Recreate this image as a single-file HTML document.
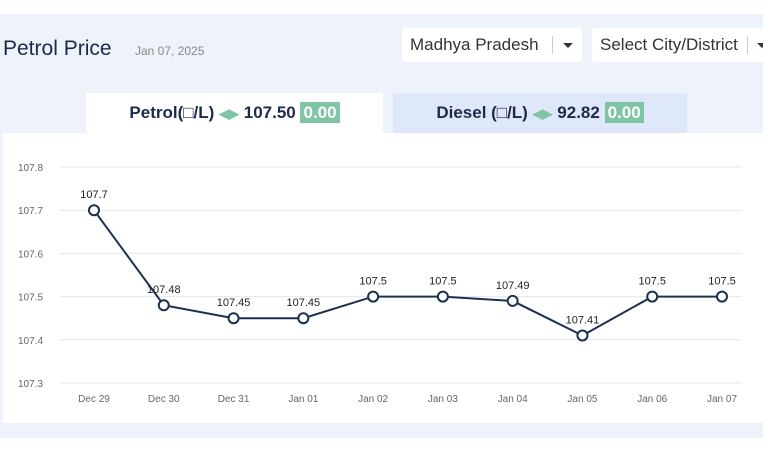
<!DOCTYPE html>
<html><head><meta charset="utf-8"><style>
body{margin:0;width:763px;height:458px;background:#fff;font-family:"Liberation Sans",sans-serif;overflow:hidden;position:relative}
.panel{position:absolute;left:0;top:14px;width:763px;height:424px;background:#eef2fb}
.title{position:absolute;left:3px;top:37px;font-size:21px;color:#1c2b4a}
.date{position:absolute;left:135px;top:44px;font-size:12px;color:#888}
.sel{position:absolute;top:28px;height:34px;background:#fff;border-radius:4px;font-size:17px;color:#333;line-height:34px;padding-left:8px;box-sizing:border-box}
.sel .bar{position:absolute;top:8px;width:1px;height:18px;background:#ccc}
.sel .car{position:absolute;top:15px;border-left:5px solid transparent;border-right:5px solid transparent;border-top:5px solid #333}
.tab{position:absolute;top:93px;height:40px;font-size:17px;font-weight:bold;color:#1c2b4a;line-height:40px;text-align:center}
.badge{background:#7fc4a4;color:#fff;padding:1px 3px;font-weight:bold}
.arr{color:#7fc4a4;font-size:13px}
.card{position:absolute;left:3px;top:133px;width:760px;height:290px;background:#fff}
</style></head><body>
<div class="panel"></div>
<div class="title">Petrol Price</div>
<div class="date">Jan 07, 2025</div>
<div class="sel" style="left:402px;width:180px">Madhya Pradesh<span class="bar" style="left:150px"></span><span class="car" style="left:161px"></span></div>
<div class="sel" style="left:592px;width:180px">Select City/District<span class="bar" style="left:155px"></span><span class="car" style="left:165px"></span></div>
<div class="tab" style="left:86px;width:297px;background:#fff">Petrol(□/L) <span class="arr">◀▶</span> 107.50 <span class="badge">0.00</span></div>
<div class="tab" style="left:393px;width:294px;background:#dfe8f8">Diesel (□/L) <span class="arr">◀▶</span> 92.82 <span class="badge">0.00</span></div>
<div class="card"></div>
<svg id="chart" width="763" height="458" style="position:absolute;left:0;top:0"></svg>
<script>
const categories=["Dec 29","Dec 30","Dec 31","Jan 01","Jan 02","Jan 03","Jan 04","Jan 05","Jan 06","Jan 07"];
const values=[107.7,107.48,107.45,107.45,107.5,107.5,107.49,107.41,107.5,107.5];
const yTicks=[107.3,107.4,107.5,107.6,107.7,107.8];
const svg=document.getElementById('chart');const NS='http://www.w3.org/2000/svg';
const y=v=>383-(v-107.3)/0.5*216;
const x=i=>94+i*(722-94)/(categories.length-1);
function mk(t,a){const e=document.createElementNS(NS,t);for(const k in a)e.setAttribute(k,a[k]);svg.appendChild(e);return e;}
yTicks.forEach(t=>{const l=mk('line',{x1:60,x2:742,y1:y(t),y2:y(t),stroke:'#e4e7ee'});


const tx=mk('text',{x:18,y:y(t)+4,'font-size':10,fill:'#666','font-family':'Liberation Sans'});tx.textContent=t;

});
categories.forEach((c,i)=>{const tx=mk('text',{x:x(i),y:402,'font-size':10,fill:'#666','text-anchor':'middle','font-family':'Liberation Sans'});tx.textContent=c;

});
const p=mk('polyline',{points:values.map((v,i)=>x(i)+','+y(v)).join(' '),fill:'none',stroke:'#1c3050','stroke-width':2});


values.forEach((v,i)=>{const c=mk('circle',{cx:x(i),cy:y(v),r:5,fill:'#fff',stroke:'#1c3050','stroke-width':2});


const tx=mk('text',{x:x(i),y:y(v)-12,'font-size':11,fill:'#222','text-anchor':'middle','font-family':'Liberation Sans'});tx.textContent=v;

});
</script>
</body></html>
